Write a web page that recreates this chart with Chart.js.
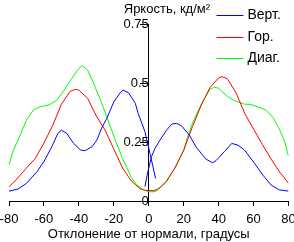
<!DOCTYPE html>
<html>
<head>
<meta charset="utf-8">
<script src="https://cdn.jsdelivr.net/npm/chart.js@4/dist/chart.umd.min.js"></script>
<style>
  html, body { margin: 0; padding: 0; background: #fff; }
</style>
</head>
<body>
<canvas id="chart" width="294" height="242"></canvas>
<script>
const seriesNames = ['Верт.', 'Гор.', 'Диаг.'];
const seriesColors = ['#0000ff', '#ff0000', '#00ff00'];
const yTitle = 'Яркость, кд/м²';
const xTitle = 'Отклонение от нормали, градусы';

// vertical sweep: two passes across the normal (null = break)
const vertAngles = [-80, -75, -70, -64, -60, -55.5, -52, -50, -47, -43, -39, -36.5, -32.5, -29.7, -27, -24, -20, -16.3, -14.8, -11.6, -7.7, -6, -4, -2.2, 0.7, 3.9,
  3.9,
  -2.2, -0.3, 1.6, 3.6, 6.4, 10.2, 13.1, 16, 18.8, 23.2, 27, 30.8, 32.8, 36.6, 38.5, 43.3, 47.5, 51, 54.8, 60.5, 65.3, 70, 74.8, 80];
const vertValues = [0.042, 0.05, 0.075, 0.124, 0.167, 0.23, 0.287, 0.30, 0.287, 0.244, 0.216, 0.213, 0.23, 0.258, 0.308, 0.35, 0.42, 0.459, 0.47, 0.459, 0.414, 0.37, 0.33, 0.294, 0.202, 0.096,
  null,
  0.061, 0.131, 0.188, 0.223, 0.258, 0.30, 0.326, 0.329, 0.318, 0.28, 0.23, 0.195, 0.177, 0.162, 0.171, 0.209, 0.244, 0.237, 0.216, 0.16, 0.11, 0.068, 0.047, 0.042];

const horAngles = [-80, -75, -70, -65, -60, -55, -50, -45, -42, -40, -35, -30, -25, -20, -15, -10, -5, -2, 0, 3, 5, 7, 10, 15, 20, 25, 30, 35, 40, 42, 45, 50, 55, 60, 65, 70, 75, 80];
const horValues = [0.06, 0.097, 0.14, 0.18, 0.246, 0.32, 0.41, 0.465, 0.473, 0.47, 0.435, 0.36, 0.30, 0.22, 0.14, 0.085, 0.052, 0.045, 0.044, 0.044, 0.05, 0.061, 0.083, 0.14, 0.215, 0.315, 0.405, 0.48, 0.522, 0.527, 0.518, 0.458, 0.37, 0.305, 0.24, 0.178, 0.122, 0.075];

const diagAngles = [-80, -77.5, -75, -70, -66, -62, -57, -53, -49, -44, -40, -38, -35, -32, -28, -24, -20, -15, -10, -7, -3, 0, 3, 5, 10, 15, 20, 22, 25, 30, 35, 37.5, 40, 45, 50, 55, 58, 62, 67, 71, 72, 75, 77.5, 80];
const diagValues = [0.153, 0.216, 0.255, 0.343, 0.386, 0.40, 0.407, 0.425, 0.463, 0.52, 0.562, 0.573, 0.555, 0.505, 0.435, 0.357, 0.275, 0.18, 0.10, 0.07, 0.047, 0.039, 0.039, 0.045, 0.08, 0.14, 0.215, 0.265, 0.33, 0.41, 0.473, 0.482, 0.478, 0.443, 0.422, 0.41, 0.41, 0.40, 0.386, 0.355, 0.343, 0.30, 0.258, 0.19];

const toPoints = (xs, ys) => xs.map((a, i) => ({ x: a, y: ys[i] }));
const seriesPoints = [
  toPoints(vertAngles, vertValues),
  toPoints(horAngles, horValues),
  toPoints(diagAngles, diagValues)
];

Chart.defaults.font.family = '"Liberation Sans", Arial, sans-serif';
Chart.defaults.font.size = 13;
Chart.defaults.color = '#000';

// axis title above the y axis and the legend in the top right corner
const overlay = {
  id: 'overlay',
  afterDraw(chart) {
    const { ctx, chartArea, scales } = chart;
    const axisX = scales.x.getPixelForValue(0);
    ctx.save();
    ctx.fillStyle = '#000';
    ctx.textBaseline = 'middle';
    ctx.textAlign = 'left';
    ctx.font = '13px "Liberation Sans", Arial, sans-serif';
    ctx.fillText(yTitle, axisX - 25, chartArea.top - 15);

    ctx.font = '14px "Liberation Sans", Arial, sans-serif';
    chart.data.datasets.forEach((ds, i) => {
      const ly = Math.round(chartArea.top - 9 + i * 21.5) + 0.5;
      const lx = chartArea.right - 72;
      ctx.strokeStyle = seriesColors[i];
      ctx.lineWidth = 1;
      ctx.beginPath();
      ctx.moveTo(lx, ly);
      ctx.lineTo(lx + 27, ly);
      ctx.stroke();
      ctx.fillText(ds.label, lx + 31, ly);
    });
    ctx.restore();
  }
};

new Chart(document.getElementById('chart'), {
  type: 'line',
  data: {
    datasets: seriesNames.map((name, i) => ({
      label: name,
      data: seriesPoints[i],
      borderColor: seriesColors[i],
      backgroundColor: seriesColors[i],
      borderWidth: 1,
      pointRadius: 0,
      tension: 0,
      spanGaps: false
    }))
  },
  options: {
    responsive: false,
    animation: false,
    devicePixelRatio: 1,
    layout: { padding: { left: 9, right: 5.5, top: 24, bottom: 1 } },
    plugins: {
      legend: { display: false },
      tooltip: { enabled: false }
    },
    scales: {
      x: {
        type: 'linear',
        min: -80,
        max: 80,
        ticks: { stepSize: 20, padding: 6, maxRotation: 0 },
        grid: { drawOnChartArea: false, tickLength: 5, color: '#000' },
        border: { color: '#000' },
        title: {
          display: true,
          text: xTitle,
          font: { size: 13, lineHeight: 1 },
          padding: { top: 0, bottom: 0 }
        },
        afterFit(scale) {
          // labels may run past the edges like in the original
          scale.paddingLeft = 0;
          scale.paddingRight = 0;
          scale.height = 40;
        }
      },
      y: {
        position: { x: 0 },
        min: 0,
        max: 0.75,
        ticks: { stepSize: 0.25, padding: 3, callback: v => String(v) },
        grid: { drawOnChartArea: false, tickLength: 8, color: '#000' },
        border: { color: '#000' }
      }
    }
  },
  plugins: [overlay]
});
</script>
</body>
</html>
